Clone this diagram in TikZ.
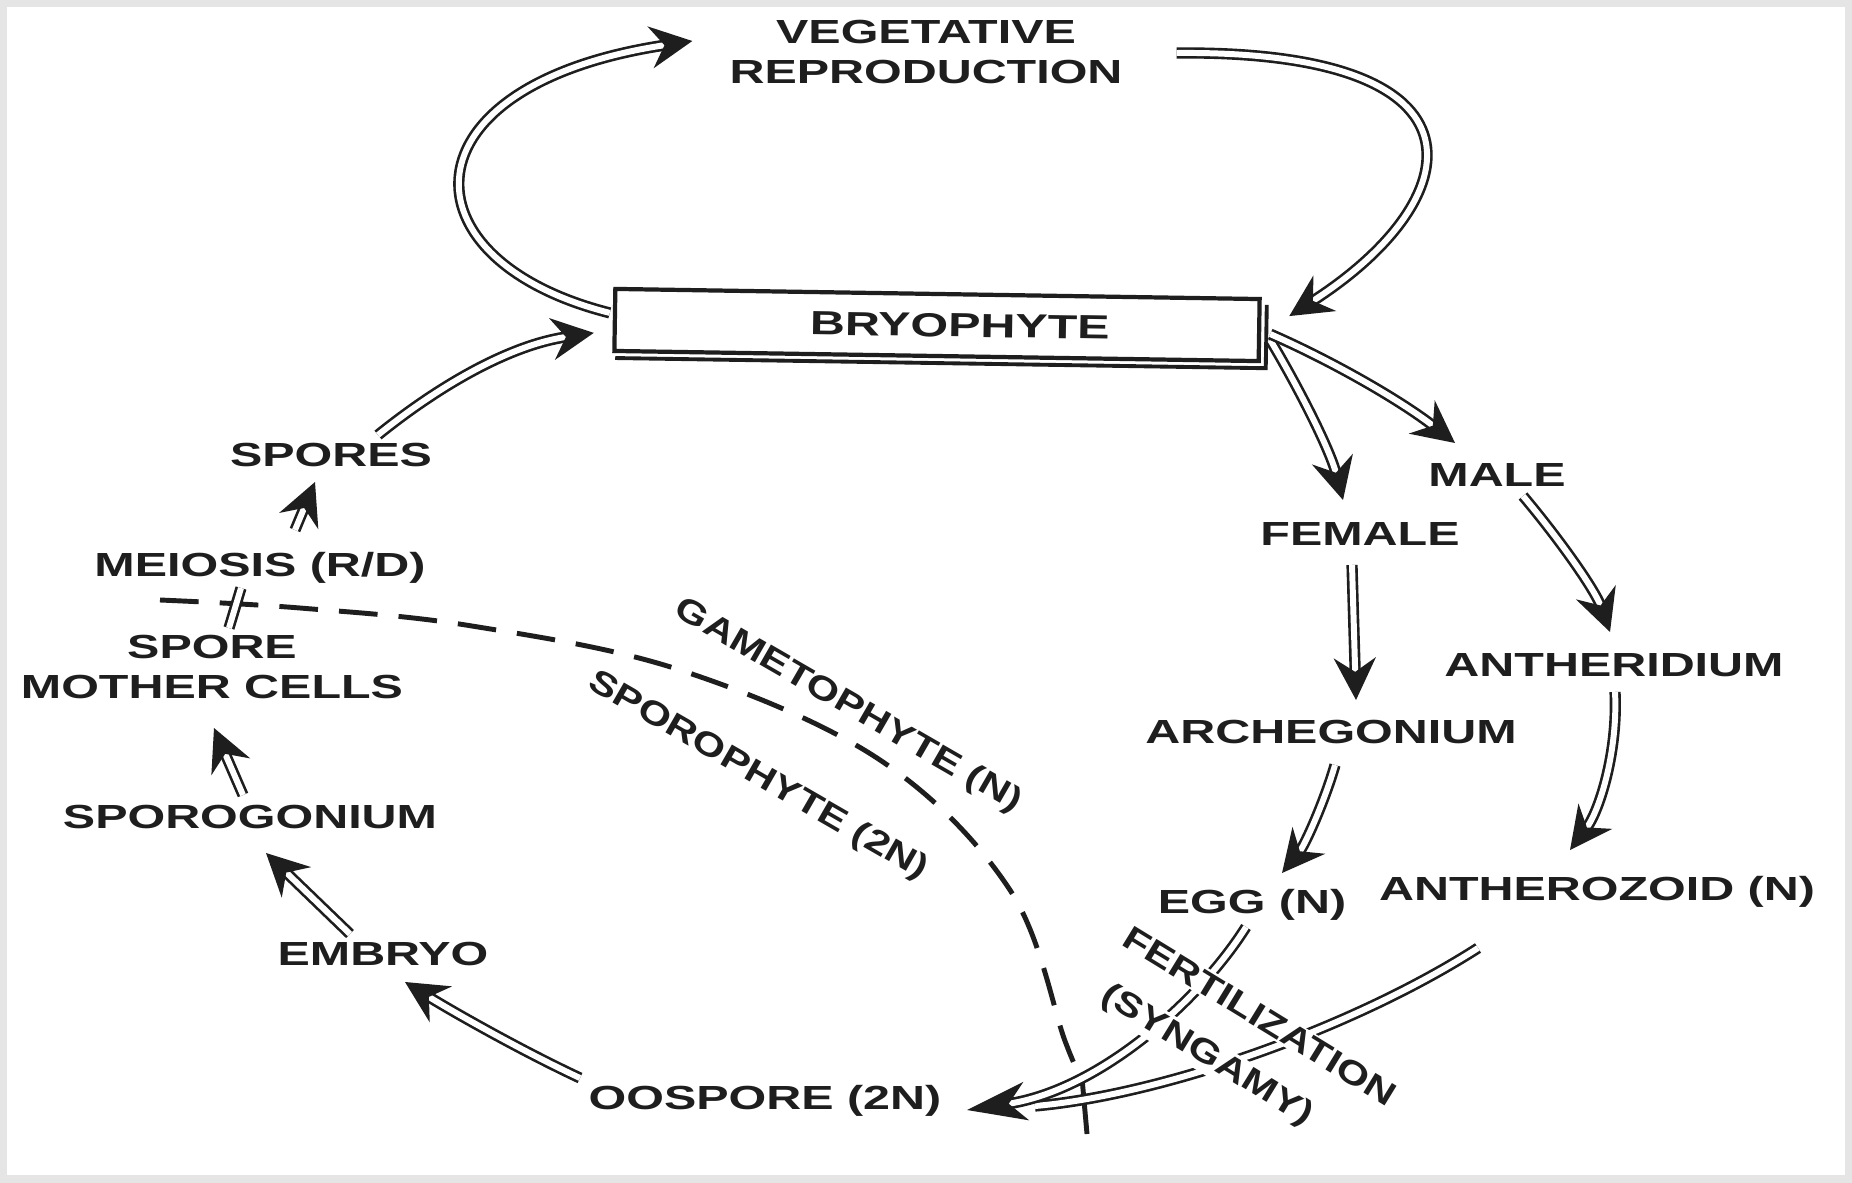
\documentclass[tikz,border=0pt]{standalone}
\usepackage{fontspec}
\newfontfamily\lbl[FakeStretch=1.45]{Liberation Sans}
\newfontfamily\lblr[FakeStretch=1.26]{Liberation Sans}
\usetikzlibrary{arrows.meta,calc}
\definecolor{ink}{HTML}{1E1E1E}
\begin{document}
\begin{tikzpicture}[x=0.01cm,y=-0.01cm,
  lab/.style={font=\lbl\bfseries\fontsize{9.5}{11.2}\selectfont, text=ink, inner sep=1pt, align=center},
  rlab/.style={font=\lblr\bfseries\fontsize{9.5}{11.2}\selectfont, text=ink, inner sep=0.5pt},
  dbl/.style={draw=ink, line width=0.75pt, double=white, double distance=1.7pt},
  hd/.style={-{Stealth[length=12pt,width=12pt,inset=4pt]}},
  bighd/.style={-{Stealth[length=17pt,width=11pt,inset=5pt]}},
  dsh/.style={draw=ink, line width=1.4pt, dash pattern=on 11pt off 6pt},
  boxed/.style={draw=ink, line width=1.2pt, fill=white, minimum width=6.44cm, minimum height=0.62cm, inner sep=0pt},
]
\useasboundingbox (0,0) rectangle (1852,1182);
\fill[white] (0,0) rectangle (1852,1182);
\draw[black!10, line width=4pt] (0,0) rectangle (1852,1182);

% nodes
\node[lab] (veg) at (926,52) {VEGETATIVE\\REPRODUCTION};
\node[boxed, rotate=-0.9, lab] (bry) at (937,325) {\hspace*{13pt}BRYOPHYTE};
\node[lab] (spores) at (331,455) {SPORES};
\node[lab] (meiosis) at (260,568) {MEIOSIS (R/D)};
\node[lab] (smc) at (212,667) {SPORE\\MOTHER CELLS};
\node[lab] (sporog) at (250,817) {SPOROGONIUM};
\node[lab] (embryo) at (383,954) {EMBRYO};
\node[lab] (oospore) at (765,1101) {OOSPORE (2N)};
\node[lab] (female) at (1360,534) {FEMALE};
\node[lab] (male) at (1497,475) {MALE};
\node[lab] (archeg) at (1331,732) {ARCHEGONIUM};
\node[lab] (antherid) at (1614,665) {ANTHERIDIUM};
\node[lab] (egg) at (1252,905) {EGG (N)};
\node[lab] (antheroz) at (1597,892) {ANTHEROZOID (N)};

% box shadow
\draw[ink, line width=1.1pt] ($(bry.south west)+(3,5)$) -- ($(bry.south east)+(5,5)$) -- ($(bry.north east)+(5,8)$);

% dashed boundary
\draw[dsh] plot[smooth, tension=0.6] coordinates {(160,600) (300,608) (472,626) (680,670) (880,760) (1010,890) (1065,1041) (1080,1075)};
\draw[ink, line width=1.4pt] (1082,1078) -- (1087,1134);

% connectors
\draw[dbl,hd] ($(bry.west)+(-3,-7)$) .. controls (400,260) and (400,85) .. ($(veg.west)+(-33,-11)$);
\draw[dbl,hd] ($(veg.east)+(50,1)$) .. controls (1500,50) and (1470,200) .. ($(bry.east)+(28,-14)$);
\draw[dbl,hd] ($(spores)+(47,-20)$) .. controls (440,385) and (510,345) .. ($(bry.west)+(-19,13)$);
\draw[dbl,hd] ($(meiosis)+(35,-38)$) -- ($(spores)+(-16,27)$);
\draw[dbl] ($(smc)+(17,-39)$) -- ($(meiosis)+(-19,20)$);
\draw[dbl,hd] ($(sporog)+(-7,-22)$) -- ($(smc)+(2,61)$);
\draw[dbl,hd] ($(embryo)+(-33,-20)$) -- ($(sporog)+(16,36)$);
\draw[dbl,hd] ($(oospore)+(-185,-23)$) .. controls (520,1050) and (450,1010) .. ($(embryo)+(22,28)$);
\draw[dbl,hd] ($(bry.east)+(9,10)$) .. controls (1300,390) and (1330,450) .. ($(female)+(-17,-34)$);
\draw[dbl,hd] ($(bry.east)+(9,4)$) .. controls (1330,360) and (1400,400) .. ($(male)+(-42,-32)$);
\draw[dbl,hd] ($(female)+(-8,31)$) -- ($(archeg)+(25,-32)$);
\draw[dbl,hd] ($(male)+(26,21)$) .. controls (1560,540) and (1595,590) .. ($(antherid)+(-4,-33)$);
\draw[dbl,hd] ($(archeg)+(4,33)$) .. controls (1325,800) and (1305,845) .. ($(egg)+(30,-32)$);
\draw[dbl,hd] ($(antherid)+(1,27)$) .. controls (1618,750) and (1600,810) .. ($(antheroz)+(-27,-42)$);
\draw[dbl] ($(antheroz)+(-119,56)$) .. controls (1350,1030) and (1160,1095) .. ($(oospore)+(270,5)$);
\draw[dbl,bighd] ($(egg)+(-6,22)$) .. controls (1200,1000) and (1100,1090) .. ($(oospore)+(202,9)$);

% rotated labels
\node[rlab, rotate=-30] (gam) at (848,706) {GAMETOPHYTE (N)};
\node[rlab, rotate=-30] (spo) at (758,776) {SPOROPHYTE (2N)};
\node[rlab, fill=white, rotate=-31.5] (fert) at (1260,1016) {FERTILIZATION};
\node[rlab, fill=white, rotate=-31.5] (syn) at (1207,1056) {(SYNGAMY)};
\end{tikzpicture}
\end{document}
